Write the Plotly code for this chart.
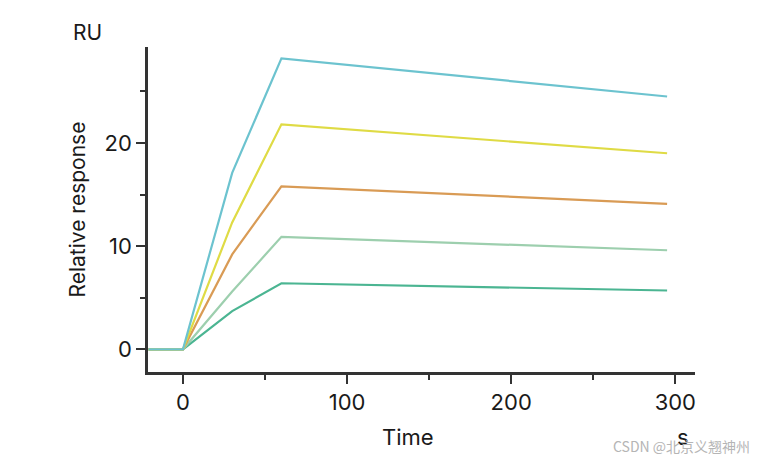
import plotly.graph_objects as go

time_s = [-21, 0, 30, 60, 295]
cyan_ru = [0, 0, 17.1, 28.2, 24.5]
yellow_ru = [0, 0, 12.3, 21.8, 19.0]
orange_ru = [0, 0, 9.2, 15.8, 14.1]
lightgreen_ru = [0, 0, 5.6, 10.9, 9.6]
green_ru = [0, 0, 3.7, 6.4, 5.7]

series = [
    ("cyan", cyan_ru, "#6cc3cf"),
    ("yellow", yellow_ru, "#dfdb45"),
    ("orange", orange_ru, "#d99b55"),
    ("lightgreen", lightgreen_ru, "#9dcfae"),
    ("green", green_ru, "#4bb592"),
]

x_ticks = [0, 100, 200, 300]
y_ticks = [0, 10, 20]

fig = go.Figure()
for name, vals, col in reversed(series):
    fig.add_trace(go.Scatter(x=time_s, y=vals, mode="lines", name=name,
                             line=dict(color=col, width=2.2), showlegend=False))

font_fam = "Inter, Open Sans, sans-serif"
fig.update_layout(
    width=760, height=460,
    margin=dict(l=140, r=73, t=39, b=96),
    plot_bgcolor="white", paper_bgcolor="white",
    font=dict(family=font_fam, size=20, color="#1a1a1a"),
    xaxis=dict(range=[-21.3, 312], showgrid=False, zeroline=False,
               showline=True, linecolor="#333", linewidth=2.5,
               tickmode="array", tickvals=x_ticks, ticks="outside",
               ticklen=9, tickwidth=2, tickcolor="#333",
               tickfont=dict(size=22),
               minor=dict(tickvals=[50, 150, 250], ticks="outside", ticklen=5,
                          tickwidth=2, tickcolor="#333")),
    yaxis=dict(range=[-2.2, 29.3], showgrid=False, zeroline=False,
               showline=True, linecolor="#333", linewidth=2.5,
               tickmode="array", tickvals=y_ticks, ticks="outside",
               ticklen=9, tickwidth=2, tickcolor="#333",
               tickfont=dict(size=22),
               minor=dict(tickvals=[5, 15, 25], ticks="outside", ticklen=5,
                          tickwidth=2, tickcolor="#333")),
)

fig.add_annotation(text="RU", xref="paper", yref="paper", x=-0.11, y=1.0,
                   xanchor="center", yanchor="bottom", yshift=0, showarrow=False,
                   font=dict(size=21))
fig.add_annotation(text="Relative response", xref="paper", yref="paper",
                   x=-0.128, y=0.5, textangle=-90, showarrow=False,
                   xanchor="center", yanchor="middle", font=dict(size=21))
fig.add_annotation(text="Time", xref="paper", yref="paper", x=0.475, y=0,
                   yshift=-65, xanchor="center", yanchor="middle",
                   showarrow=False, font=dict(size=22))
fig.add_annotation(text="s", xref="paper", yref="paper", x=0.978, y=0,
                   yshift=-65, xanchor="center", yanchor="middle",
                   showarrow=False, font=dict(size=22))
fig.add_annotation(text="CSDN @北京义翘神州", xref="paper", yref="paper",
                   x=1.0, y=0, xshift=57, yshift=-74, xanchor="right",
                   yanchor="middle", showarrow=False,
                   font=dict(size=14, color="#b5b5b5",
                             family="Noto Sans CJK SC, sans-serif"))

fig.write_html("out.html")
